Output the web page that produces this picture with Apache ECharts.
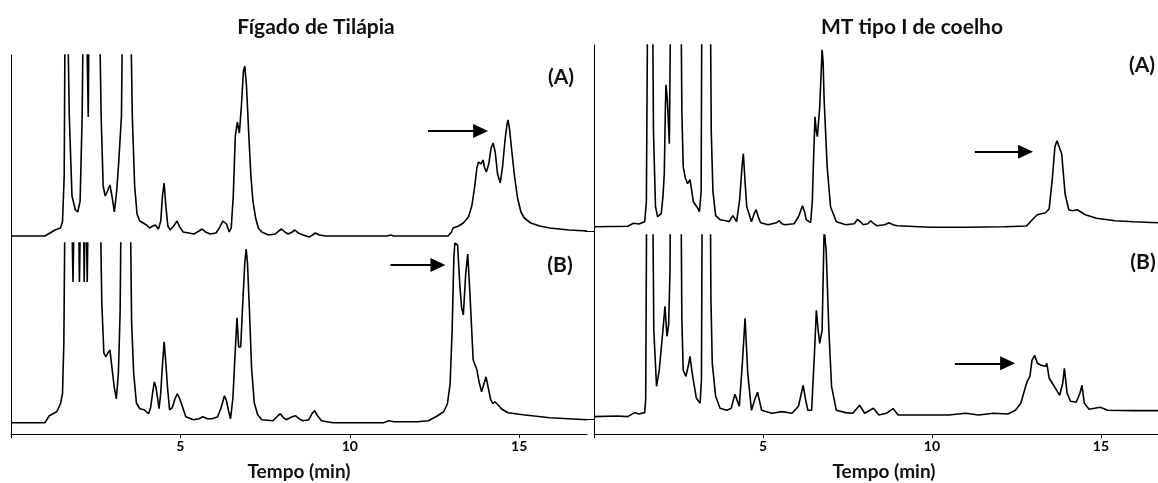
<!DOCTYPE html>
<html>
<head>
<meta charset="UTF-8">
<title>Cromatogramas</title>
<script src="https://cdn.jsdelivr.net/npm/echarts@6/dist/echarts.min.js"></script>
<style>
  html, body { margin: 0; padding: 0; background: #fff; }
  #main { width: 1158px; height: 483px; }
</style>
</head>
<body>
<div id="main"></div>
<script>
// tempo (min) x sinal (altura acima da linha de base); picos acima do topo ficam cortados
var figadoA = [[0,0],[1.0,0],[1.15,3],[1.3,6],[1.46,8],[1.52,14],[1.57,60],[1.6,250],[1.66,250],[1.72,120],[1.8,40],[1.9,26],[1.97,24],[2.04,35],[2.1,120],[2.14,250],[2.2,250],[2.24,200],[2.28,119],[2.31,250],[2.6,250],[2.66,120],[2.72,50],[2.78,40],[2.85,45],[2.92,51],[2.98,40],[3.05,24],[3.12,45],[3.18,74],[3.22,76],[3.26,120],[3.3,250],[3.52,250],[3.58,120],[3.65,50],[3.72,22],[3.8,15],[3.9,13],[4.0,11],[4.09,8],[4.18,10],[4.26,11],[4.35,7],[4.42,15],[4.47,40],[4.52,53],[4.57,30],[4.63,10],[4.7,6],[4.8,10],[4.9,15],[4.98,9],[5.08,4],[5.25,3],[5.4,2],[5.55,5],[5.64,7],[5.74,4],[5.88,2],[6.05,3],[6.15,8],[6.25,15],[6.3,17],[6.36,12],[6.44,4],[6.5,8],[6.56,40],[6.62,100],[6.68,114],[6.74,103],[6.8,130],[6.86,165],[6.9,170],[6.95,150],[7.02,100],[7.08,60],[7.14,35],[7.22,18],[7.3,8],[7.4,4],[7.6,1],[7.8,2],[7.9,5],[7.98,7],[8.08,4],[8.18,2],[8.3,4],[8.38,6],[8.48,3],[8.62,1],[8.8,-1],[8.9,1],[8.98,3],[9.1,1],[9.3,0],[10.5,0],[11.1,0],[11.2,1],[11.3,0],[12.9,0],[13.0,4],[13.05,8],[13.21,10],[13.35,13],[13.5,19],[13.6,30],[13.68,48],[13.75,68],[13.8,74],[13.87,72],[13.93,76],[13.98,68],[14.03,64],[14.1,72],[14.17,88],[14.23,93],[14.29,84],[14.36,62],[14.44,53],[14.51,70],[14.58,96],[14.64,112],[14.67,116],[14.71,108],[14.78,85],[14.86,60],[14.95,38],[15.05,24],[15.15,18],[15.34,13],[15.6,10],[15.9,8],[16.46,6],[17.0,5]];

var figadoB = [[0,0],[1.0,0],[1.13,7],[1.35,11],[1.46,19],[1.52,29],[1.56,80],[1.6,250],[1.72,250],[1.8,200],[1.83,141],[1.88,250],[1.98,250],[2.02,141],[2.07,250],[2.13,250],[2.16,141],[2.2,250],[2.23,250],[2.25,141],[2.29,250],[2.62,250],[2.68,120],[2.74,70],[2.8,66],[2.86,70],[2.92,73],[2.98,55],[3.05,35],[3.11,24],[3.17,50],[3.22,110],[3.26,250],[3.51,250],[3.56,100],[3.62,50],[3.7,20],[3.8,14],[3.93,13],[4.06,9],[4.12,15],[4.18,30],[4.23,41],[4.28,35],[4.32,26],[4.37,14],[4.42,30],[4.46,53],[4.52,81],[4.57,60],[4.62,35],[4.68,13],[4.76,15],[4.84,24],[4.91,29],[4.98,24],[5.05,17],[5.16,6],[5.38,3],[5.55,4],[5.66,6],[5.8,4],[5.94,4],[6.1,6],[6.2,15],[6.3,27],[6.36,22],[6.42,12],[6.48,4],[6.55,25],[6.6,60],[6.67,105],[6.72,76],[6.78,76],[6.84,120],[6.9,160],[6.94,174],[6.98,160],[7.04,110],[7.1,55],[7.18,20],[7.28,8],[7.4,3],[7.73,2],[7.88,7],[7.95,9],[8.04,5],[8.12,3],[8.3,6],[8.4,7],[8.5,4],[8.62,2],[8.79,3],[8.9,10],[8.96,12],[9.05,7],[9.16,2],[9.5,0],[11.0,0],[11.15,2],[11.3,1],[12.0,1],[12.32,2],[12.54,6],[12.77,11],[12.88,19],[12.96,39],[13.02,93],[13.07,165],[13.1,180],[13.18,178],[13.25,136],[13.3,115],[13.35,108],[13.42,149],[13.48,169],[13.55,126],[13.64,63],[13.75,53],[13.82,40],[13.89,31],[13.95,38],[14.02,46],[14.08,36],[14.15,24],[14.22,19],[14.28,21],[14.33,22],[14.4,17],[14.47,14],[14.67,10],[15.11,8],[15.9,5],[17.0,3]];

var coelhoA = [[0,5],[1.0,5.5],[1.17,8.4],[1.33,7.7],[1.5,10],[1.55,30],[1.6,300],[1.72,300],[1.76,100],[1.82,25],[1.88,15],[1.99,18],[2.04,35],[2.08,58],[2.11,120],[2.13,147],[2.17,132],[2.2,110],[2.23,88],[2.26,200],[2.28,300],[2.56,300],[2.6,120],[2.64,65],[2.7,54],[2.77,48],[2.84,52],[2.94,30],[3.06,24],[3.12,20],[3.17,40],[3.2,300],[3.43,300],[3.47,100],[3.52,40],[3.6,16],[3.73,12],[3.9,11],[4.0,10],[4.11,16],[4.22,10],[4.31,32],[4.38,65],[4.42,78],[4.47,50],[4.52,25],[4.66,10],[4.74,18],[4.8,22],[4.86,15],[4.93,9],[5.15,7],[5.4,9],[5.48,11],[5.56,8],[5.65,7],[5.92,8],[6.05,15],[6.17,26],[6.23,20],[6.28,12],[6.41,9],[6.46,30],[6.49,65],[6.54,115],[6.58,100],[6.61,95],[6.68,125],[6.75,182],[6.78,170],[6.81,132],[6.9,65],[7.0,25],[7.17,10],[7.45,7],[7.7,8],[7.8,12.4],[7.88,10],[7.97,7],[8.1,8],[8.19,11],[8.28,8],[8.37,6],[8.6,7],[8.73,9],[8.85,7],[8.97,6],[9.96,4.4],[11.05,4.4],[12.14,5],[12.8,5.7],[12.96,11.7],[13.12,17],[13.36,19],[13.47,23],[13.56,52],[13.64,85],[13.7,91],[13.75,90],[13.84,78],[13.94,38],[14.05,22],[14.16,21],[14.3,22],[14.54,17],[14.87,13.4],[15.42,11],[15.96,10],[16.7,9]];

var coelhoB = [[0,2.7],[0.68,3.3],[1.0,2.7],[1.2,6.7],[1.33,5.3],[1.5,6.7],[1.53,20],[1.57,300],[1.72,300],[1.77,89],[1.85,33],[1.93,49],[2.04,89],[2.1,113],[2.16,83],[2.21,95],[2.25,150],[2.27,300],[2.56,300],[2.6,100],[2.64,49],[2.72,43],[2.8,55],[2.84,63],[2.92,43],[3.03,21],[3.14,16],[3.18,40],[3.21,300],[3.43,300],[3.46,120],[3.5,56],[3.6,23],[3.73,11],[3.93,9],[4.06,11],[4.17,25],[4.3,13],[4.39,56],[4.47,101],[4.55,46],[4.66,9],[4.76,20],[4.84,27],[4.9,18],[4.96,9],[5.26,6],[5.57,7.7],[5.86,6],[6.05,13],[6.19,34],[6.26,20],[6.33,9],[6.44,9],[6.52,63],[6.58,109],[6.63,90],[6.68,76],[6.75,89],[6.81,190],[6.87,169],[6.95,89],[7.03,33],[7.17,9],[7.45,6.7],[7.66,6],[7.86,14],[8.01,6],[8.27,11],[8.43,4.3],[8.65,6],[8.85,10.7],[9.0,4.3],[9.41,4.3],[10.5,4.3],[11.0,6],[11.38,4.3],[11.82,6],[12.25,5.3],[12.47,9],[12.63,16],[12.74,29],[12.82,38],[12.9,43],[12.96,59],[13.04,64],[13.12,56],[13.23,54],[13.36,53],[13.4,56],[13.47,41],[13.62,33],[13.78,24],[13.87,36],[13.92,51],[14.0,26],[14.1,18],[14.27,17],[14.38,26],[14.44,34],[14.51,16],[14.65,10],[14.98,12],[15.2,9],[15.96,8.7],[16.7,8.7]];

var tickLabels = [5, 10, 15];
var panelTitles = ['Fígado de Tilápia', 'MT tipo I de coelho'];
var traceLabels = ['(A)', '(B)'];
var axisName = 'Tempo (min)';

// setas: [inicio, fim] em (tempo, sinal)
var arrows = [
  [[12.31, 105], [13.86, 105]],
  [[11.2, 158], [12.6, 158]],
  [[11.27, 80], [12.77, 80]],
  [[10.68, 56], [12.24, 56]]
];

var FONT = 'Lato, sans-serif';
var chart = echarts.init(document.getElementById('main'));

// um grid por traço: A em cima, B embaixo
var grids = [
  { left: 11, top: 55, width: 576, height: 188, xmax: 17, ymin: -7, ymax: 181 },
  { left: 11, top: 243, width: 576, height: 191, xmax: 17, ymin: -11.3, ymax: 180 },
  { left: 594, top: 45, width: 564, height: 190, xmax: 16.69, ymin: -3.3, ymax: 186.7 },
  { left: 594, top: 235, width: 564, height: 199, xmax: 16.69, ymin: -14.7, ymax: 184.3 }
];
var traces = [figadoA, figadoB, coelhoA, coelhoB];

var xAxes = grids.map(function (g, i) {
  var bottom = (i % 2 === 1);
  return {
    type: 'value', gridIndex: i, min: 0, max: g.xmax, interval: 5,
    show: bottom,
    axisLine: { onZero: false, lineStyle: { color: '#000', width: 1 } },
    axisTick: { show: true, length: 4, lineStyle: { color: '#000' } },
    axisLabel: {
      show: true, color: '#000', fontWeight: 'bold', fontSize: 14, fontFamily: 'Lato', margin: 5,
      showMinLabel: true, showMaxLabel: false,
      formatter: function (v) { return tickLabels.indexOf(v) >= 0 ? String(v) : ''; }
    },
    splitLine: { show: false }
  };
});

var yAxes = grids.map(function (g, i) {
  var right = i >= 2;
  return {
    type: 'value', gridIndex: i, min: g.ymin, max: g.ymax,
    axisLine: { show: true, onZero: false, lineStyle: { color: '#000', width: 1 } },
    axisTick: { show: right, length: 9, customValues: [0], lineStyle: { color: '#000' } },
    axisLabel: { show: false },
    splitLine: { show: false }
  };
});

var series = traces.map(function (d, i) {
  return {
    type: 'line', xAxisIndex: i, yAxisIndex: i, data: d,
    showSymbol: false, smooth: false, clip: true, animation: false,
    lineStyle: { color: '#000', width: 1.6 },
    markLine: {
      silent: true, animation: false,
      symbol: ['none', 'triangle'], symbolSize: [14, 15],
      label: { show: false },
      lineStyle: { color: '#000', width: 2, type: 'solid' },
      data: [[{ coord: arrows[i][0] }, { coord: arrows[i][1] }]]
    }
  };
});

function txt(x, y, s, size) {
  return {
    type: 'text', x: x, y: y,
    style: { text: s, fill: '#111', font: 'bold ' + size + 'px ' + FONT, textAlign: 'center', textVerticalAlign: 'middle' }
  };
}

chart.setOption({
  backgroundColor: '#fff',
  textStyle: { fontFamily: 'Lato' },
  grid: grids.map(function (g) { return { left: g.left, top: g.top, width: g.width, height: g.height }; }),
  xAxis: xAxes,
  yAxis: yAxes,
  series: series,
  graphic: [
    txt(316, 27, panelTitles[0], 21),
    txt(912, 27, panelTitles[1], 21),
    txt(561, 77, traceLabels[0], 21),
    txt(560, 265, traceLabels[1], 21),
    txt(1142, 65, traceLabels[0], 21),
    txt(1143, 262, traceLabels[1], 21),
    txt(299, 472, axisName, 19),
    txt(884, 472, axisName, 19)
  ]
});
</script>
</body>
</html>
